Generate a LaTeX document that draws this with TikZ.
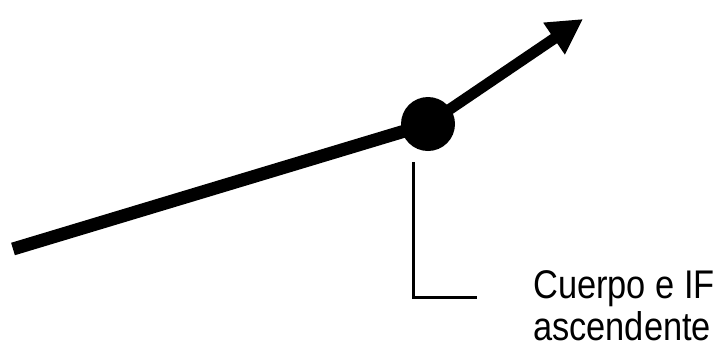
\documentclass[tikz,border=0pt]{standalone}
\usepackage{fontspec}
\setmainfont{Liberation Sans}
\usetikzlibrary{arrows.meta}
\tikzset{
  trend/.style={line width=13pt},
  rise/.style={line width=11pt,-{Triangle[length=35pt,width=36pt]}},
  lead/.style={line width=3pt},
  dotnode/.style={circle,fill=black,minimum size=54pt,inner sep=0pt}
}
\begin{document}
\begin{tikzpicture}[x=1pt,y=-1pt]
  \useasboundingbox (0,0) rectangle (716,349);
  \node[dotnode] (body) at (428,124) {};
  \coordinate (start) at (13,249);
  \coordinate (tip) at (583,19);
  \draw[trend] (start) -- (body.center);
  \draw[rise] (body.center) -- (tip);
  \coordinate (leadtop) at (413,162);
  \coordinate (leadend) at (477,297);
  \draw[lead] (leadtop) |- (leadend);
  % base anchor sits on the last line here
  \node[anchor=base west,align=left,inner sep=0pt,xscale=0.86,font=\fontsize{40}{42}\selectfont] (label) at (533,340) {Cuerpo e IF\\ascendente};
\end{tikzpicture}
\end{document}
